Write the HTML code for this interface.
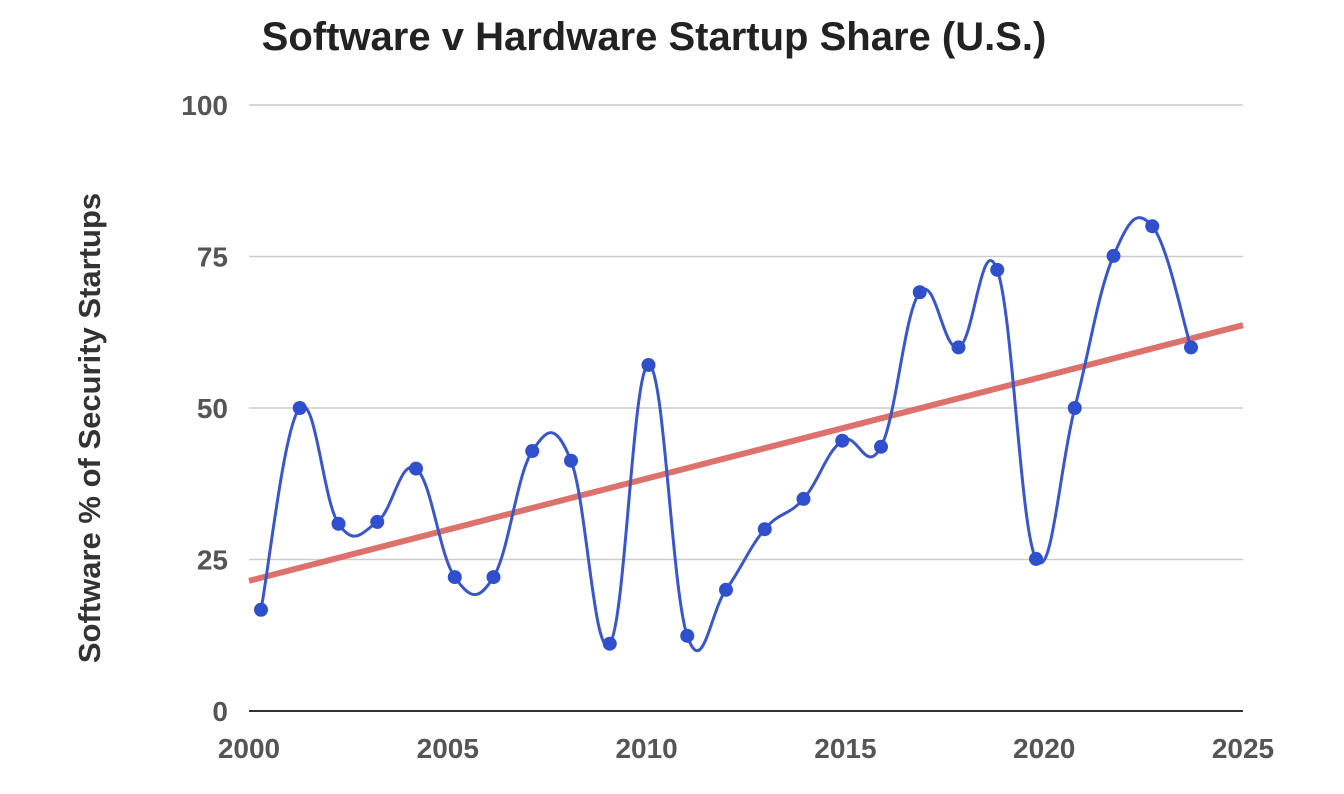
<!DOCTYPE html>
<html><head><meta charset="utf-8"><style>
html,body{margin:0;padding:0;background:#fff;}
svg{display:block;font-family:"Comic Sans MS","Liberation Sans",sans-serif;}
</style></head><body>
<svg id="chart" width="1344" height="794" viewBox="0 0 1344 794" xmlns="http://www.w3.org/2000/svg">
<text x="654" y="50" text-anchor="middle" font-size="40" font-weight="bold" fill="#222">Software v Hardware Startup Share (U.S.)</text>
<text transform="translate(100,428) rotate(-90)" text-anchor="middle" font-size="31" font-weight="bold" fill="#333">Software % of Security Startups</text>
<g id="grid"></g>
<g id="yt"></g>
<g id="xt"></g>
<g id="series"></g>
</svg>
<script>
const years=[2000,2001,2002,2003,2004,2005,2006,2007,2008,2009,2010,2011,2012,2013,2014,2015,2016,2017,2018,2019,2020,2021,2022,2023,2024];
const values=[16.7,50,30.9,31.2,40,22.1,22.1,42.9,41.3,11.1,57.1,12.4,20,30,35,44.6,43.6,69.1,60,72.8,25.1,50,75.1,80,60];
const yTicks=[0,25,50,75,100];
const xTicks=[2000,2005,2010,2015,2020,2025];
const NS="http://www.w3.org/2000/svg";
const PL=249,PR=1243,Y0=711,Y1=105;
const xs=v=>261+(v-2000)*38.75;
const xinv=px=>2000+(px-261)/38.75;
const xl=v=>PL+(v-2000)/25*(PR-PL);
const ys=v=>Y0-v/100*(Y0-Y1);
function mk(t,a,p){const e=document.createElementNS(NS,t);for(const k in a)e.setAttribute(k,a[k]);p.appendChild(e);return e;}
const grid=document.getElementById('grid'),yt=document.getElementById('yt'),xt=document.getElementById('xt'),se=document.getElementById('series');
yTicks.forEach(v=>{
 const l=mk('line',{x1:PL,x2:PR,y1:ys(v),y2:ys(v),stroke:v===0?'#333':'#ccc','stroke-width':v===0?2:1.5},grid);
 
 
 const t=mk('text',{x:228,y:ys(v)+10,'text-anchor':'end','font-size':28,'font-weight':'bold',fill:'#555'},yt);
 t.textContent=v;
 
 
});
xTicks.forEach(v=>{
 const t=mk('text',{x:xl(v),y:758,'text-anchor':'middle','font-size':28,'font-weight':'bold',fill:'#555'},xt);
 t.textContent=v;
 
 
});
const n=years.length;let mx=0,my=0;years.forEach((x,i)=>{mx+=x;my+=values[i];});mx/=n;my/=n;
let sxy=0,sxx=0;years.forEach((x,i)=>{sxy+=(x-mx)*(values[i]-my);sxx+=(x-mx)*(x-mx);});
const b=sxy/sxx,a=my-b*mx;
const tl=mk('line',{x1:PL,y1:ys(a+b*xinv(PL)),x2:PR,y2:ys(a+b*xinv(PR)),stroke:'#d9625c','stroke-width':6,'stroke-opacity':0.9},se);


const P=years.map((y,i)=>[xs(y),ys(values[i])]);
let d='M'+P[0][0]+','+P[0][1];
for(let i=0;i<P.length-1;i++){
 const p0=P[Math.max(0,i-1)],p1=P[i],p2=P[i+1],p3=P[Math.min(P.length-1,i+2)];
 const k=1/5;
 d+=' C'+(p1[0]+(p2[0]-p0[0])*k)+','+(p1[1]+(p2[1]-p0[1])*k)+' '+(p2[0]-(p3[0]-p1[0])*k)+','+(p2[1]-(p3[1]-p1[1])*k)+' '+p2[0]+','+p2[1];
}
const ln=mk('path',{d:d,fill:'none',stroke:'#3a56c8','stroke-width':3},se);


P.forEach(p=>{
 const c=mk('circle',{cx:p[0],cy:p[1],r:7,fill:'#2f4fcc'},se);
 
 
});
</script>
</body></html>
